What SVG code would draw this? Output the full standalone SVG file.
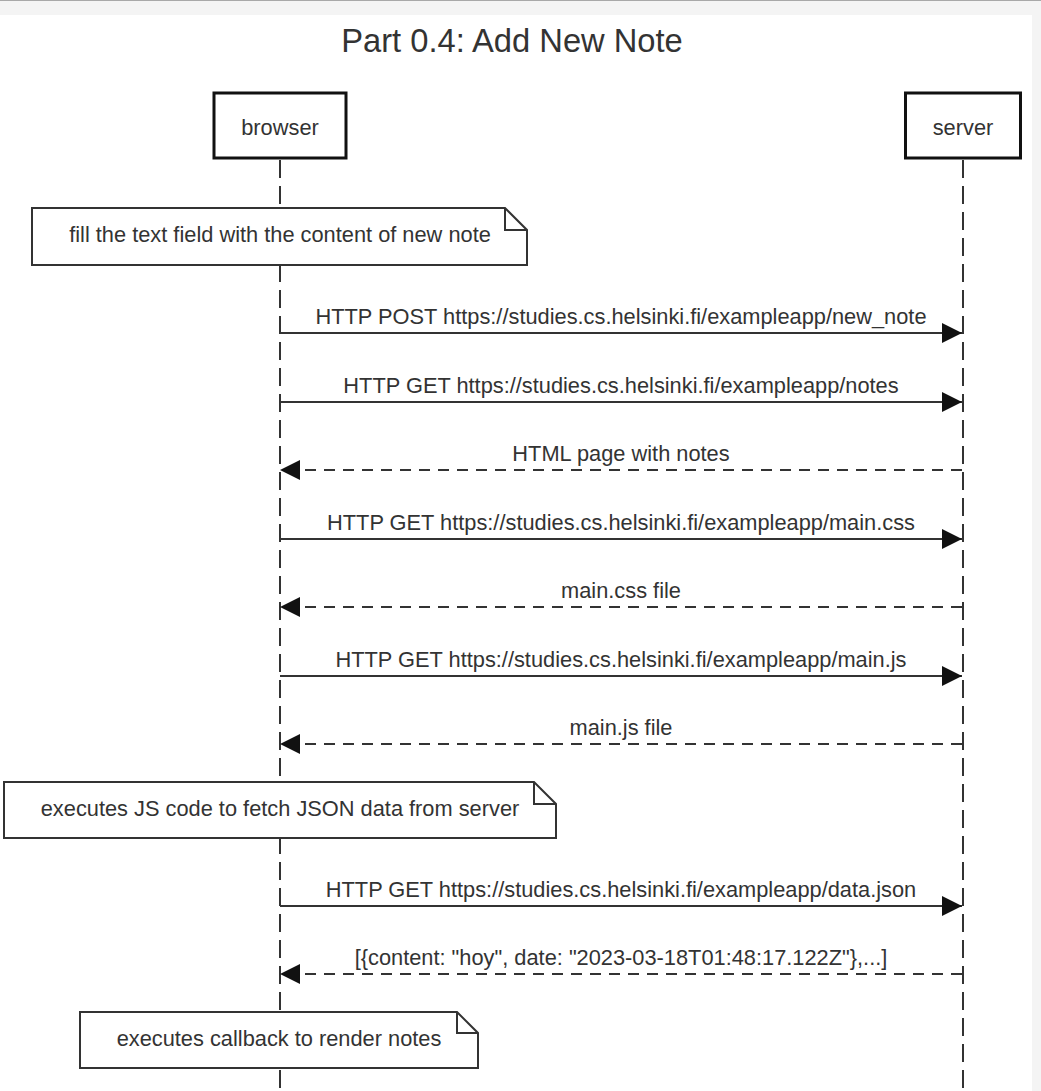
<svg xmlns="http://www.w3.org/2000/svg" width="1041" height="1091" viewBox="0 0 1041 1091">
<style>
  text { font-family: "Liberation Sans", Arial, sans-serif; fill: #333; }
  .title { font-size: 32.7px; text-anchor: middle; }
  .lbl { font-size: 21.8px; text-anchor: middle; }
  .actor { fill: #fff; stroke: #111; stroke-width: 3; }
  .life { stroke: #333; stroke-width: 2; stroke-dasharray: 18 8; fill: none; }
  .note { fill: #fff; stroke: #333; stroke-width: 2; }
  .fold { fill: none; stroke: #333; stroke-width: 2; }
  .msg { stroke: #333; stroke-width: 2; fill: none; marker-end: url(#head); }
  .ret { stroke: #333; stroke-width: 2; fill: none; stroke-dasharray: 11 8; marker-end: url(#head); }
</style>
<defs>
  <marker id="head" viewBox="0 0 20 20" refX="20" refY="10" markerWidth="20" markerHeight="20" markerUnits="userSpaceOnUse" orient="auto">
    <path d="M0,0 L20,10 L0,20 Z" fill="#111"/>
  </marker>
</defs>
<rect x="0" y="0" width="1041" height="1091" fill="#fff"/>
<rect x="0" y="0" width="1041" height="15" fill="#f4f4f4"/>
<rect x="1032" y="0" width="9" height="1091" fill="#f4f4f4"/>
<line x1="0" y1="0.5" x2="1041" y2="0.5" stroke="#a8a8a8" stroke-width="1"/>

<text class="title" x="512" y="52">Part 0.4: Add New Note</text>

<g id="lifelines">
  <line class="life" x1="280" y1="160" x2="280" y2="1091"/>
  <line class="life" x1="963" y1="160" x2="963" y2="1091"/>
</g>

<g id="browser">
  <rect class="actor" x="214" y="93" width="132" height="65"/>
  <text class="lbl" x="280" y="135">browser</text>
</g>
<g id="server">
  <rect class="actor" x="905.5" y="93" width="115" height="65"/>
  <text class="lbl" x="963" y="135">server</text>
</g>

<g id="note1">
  <path class="note" d="M32,208 H505 L527,230 V265 H32 Z"/>
  <path class="fold" d="M505,208 V230 H527"/>
  <text class="lbl" x="280" y="242">fill the text field with the content of new note</text>
</g>
<g id="note2">
  <path class="note" d="M4,782 H534 L556,804 V838 H4 Z"/>
  <path class="fold" d="M534,782 V804 H556"/>
  <text class="lbl" x="280" y="816">executes JS code to fetch JSON data from server</text>
</g>
<g id="note3">
  <path class="note" d="M80,1012 H457 L478,1033 V1068 H80 Z"/>
  <path class="fold" d="M457,1012 V1033 H478"/>
  <text class="lbl" x="279" y="1046">executes callback to render notes</text>
</g>

<g id="connectors">
  <line class="msg" x1="280" y1="333" x2="962" y2="333"/>
  <text class="lbl" x="621" y="323.5">HTTP POST https://studies.cs.helsinki.fi/exampleapp/new_note</text>
  <line class="msg" x1="280" y1="402" x2="962" y2="402"/>
  <text class="lbl" x="621" y="392.5">HTTP GET https://studies.cs.helsinki.fi/exampleapp/notes</text>
  <line class="ret" x1="962" y1="470" x2="280" y2="470"/>
  <text class="lbl" x="621" y="460.5">HTML page with notes</text>
  <line class="msg" x1="280" y1="539" x2="962" y2="539"/>
  <text class="lbl" x="621" y="529.5">HTTP GET https://studies.cs.helsinki.fi/exampleapp/main.css</text>
  <line class="ret" x1="962" y1="607" x2="280" y2="607"/>
  <text class="lbl" x="621" y="597.5">main.css file</text>
  <line class="msg" x1="280" y1="676" x2="962" y2="676"/>
  <text class="lbl" x="621" y="666.5">HTTP GET https://studies.cs.helsinki.fi/exampleapp/main.js</text>
  <line class="ret" x1="962" y1="744" x2="280" y2="744"/>
  <text class="lbl" x="621" y="734.5">main.js file</text>
  <line class="msg" x1="280" y1="906" x2="962" y2="906"/>
  <text class="lbl" x="621" y="896.5">HTTP GET https://studies.cs.helsinki.fi/exampleapp/data.json</text>
  <line class="ret" x1="962" y1="974" x2="280" y2="974"/>
  <text class="lbl" x="621" y="964.5">[{content: "hoy", date: "2023-03-18T01:48:17.122Z"},...]</text>
</g>
</svg>
